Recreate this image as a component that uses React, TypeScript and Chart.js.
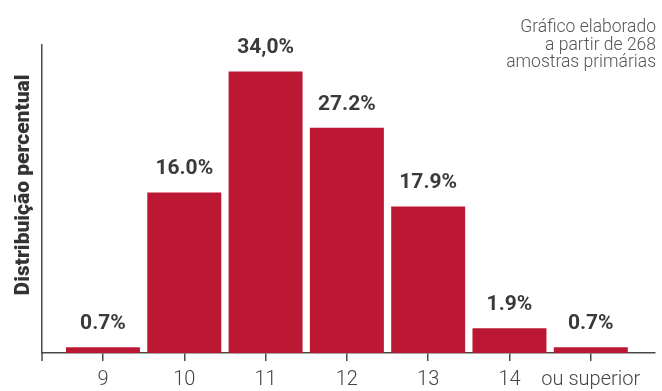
import React, { useEffect, useRef } from "react";
import { Chart, registerables } from "chart.js";

Chart.register(...registerables);

const categories = ["9", "10", "11", "12", "13", "14", "ou superior"];
// Bar heights as drawn in the picture (percent)
const barHeights = [0.7, 19.4, 34.0, 27.2, 17.7, 3.0, 0.7];
// Value labels printed above each bar
const valueLabels = ["0.7%", "16.0%", "34,0%", "27.2%", "17.9%", "1.9%", "0.7%"];
const yAxisTitle = "Distribuição percentual";
const noteLines = ["Gráfico elaborado", "a partir de 268", "amostras primárias"];

const BAR_COLOR = "#BC1834";
const AXIS_COLOR = "#4a4a4a";
const FONT = "Roboto";

const overlayPlugin = {
  id: "overlay",
  afterDatasetsDraw(chart: any) {
    const { ctx, chartArea } = chart;
    const meta = chart.getDatasetMeta(0);
    ctx.save();
    // small tick under the y axis
    ctx.strokeStyle = AXIS_COLOR;
    ctx.lineWidth = 1.5;
    ctx.beginPath();
    ctx.moveTo(chartArea.left, chartArea.bottom);
    ctx.lineTo(chartArea.left, chartArea.bottom + 8);
    ctx.stroke();

    ctx.fillStyle = "#3a3a3a";
    ctx.font = `bold 21px ${FONT}`;
    ctx.textAlign = "center";
    ctx.textBaseline = "alphabetic";
    meta.data.forEach((bar: any, i: number) => {
      ctx.fillText(valueLabels[i], bar.x, bar.y - 18);
    });
    // y axis title
    ctx.save();
    ctx.translate(29, 185);
    ctx.rotate(-Math.PI / 2);
    ctx.font = `900 21px ${FONT}`;
    ctx.fillStyle = "#333333";
    ctx.textAlign = "center";
    ctx.textBaseline = "alphabetic";
    ctx.fillText(yAxisTitle, 0, 0);
    ctx.restore();
    // note, top right
    ctx.font = `300 17.5px ${FONT}`;
    ctx.fillStyle = "#555555";
    ctx.textAlign = "right";
    noteLines.forEach((line, i) => {
      ctx.fillText(line, 656, 32 + i * 17.5);
    });
    ctx.restore();
  },
};

export default function App() {
  const canvasRef = useRef<HTMLCanvasElement | null>(null);

  useEffect(() => {
    if (!canvasRef.current) return;
    const chart = new Chart(canvasRef.current, {
      type: "bar",
      data: {
        datasets: [
          {
            data: barHeights.map((v, i) => ({ x: i, y: v })),
            backgroundColor: BAR_COLOR,
            borderWidth: 0,
            categoryPercentage: 1,
            barPercentage: 0.91,
          },
        ],
      },
      options: {
        animation: false,
        responsive: false,
        maintainAspectRatio: false,
        layout: { padding: { left: 42, right: 7, top: 45, bottom: 0 } },
        plugins: {
          legend: { display: false },
          tooltip: { enabled: false },
          title: { display: false },
        },
        scales: {
          x: {
            type: "linear",
            min: -0.75,
            max: 6.79,
            offset: false,
            afterBuildTicks: (scale: any) => {
              scale.ticks = categories.map((_, i) => ({ value: i }));
            },
            afterFit: (scale: any) => {
              scale.height = 38;
            },
            ticks: {
              autoSkip: false,
              maxRotation: 0,
              padding: 7,
              color: "#444444",
              font: { family: FONT, size: 20, weight: "300" },
              callback: (value: any) => categories[value as number] ?? "",
            },
            grid: {
              display: true,
              drawOnChartArea: false,
              drawTicks: true,
              tickLength: 8,
              color: AXIS_COLOR,
              lineWidth: 1.5,
              offset: false,
            },
            border: { display: true, color: AXIS_COLOR, width: 1.5 },
          },
          y: {
            min: 0,
            max: 37.2,
            ticks: { display: false },
            grid: { display: false, drawTicks: false },
            border: { display: true, color: AXIS_COLOR, width: 1.5 },
            afterFit: (scale: any) => {
              scale.width = 0;
            },
          },
        },
      },
      plugins: [overlayPlugin],
    });
    return () => chart.destroy();
  }, []);

  return (
    <div style={{ position: "fixed", left: 0, top: 0, width: 662, height: 391, background: "#fff" }}>
      <canvas ref={canvasRef} width={662} height={391} style={{ width: 662, height: 391 }} />
    </div>
  );
}
